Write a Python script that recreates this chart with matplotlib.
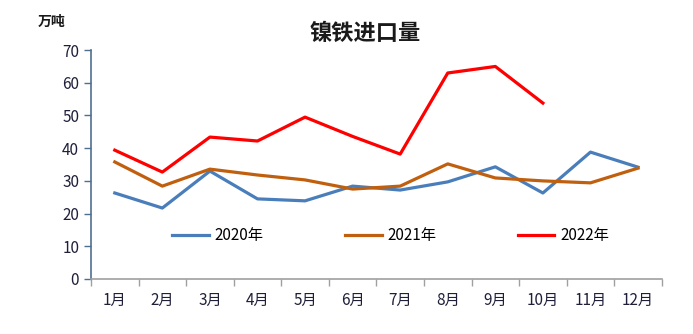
import matplotlib
matplotlib.use("Agg")
import matplotlib.pyplot as plt
import numpy as np

plt.rcParams['font.family'] = ['Noto Sans CJK SC', 'DejaVu Sans']

# data
months = ['1月', '2月', '3月', '4月', '5月', '6月', '7月', '8月', '9月', '10月', '11月', '12月']
y2020 = [26.3, 21.7, 33.0, 24.5, 23.9, 28.4, 27.2, 29.7, 34.3, 26.3, 38.8, 34.2]
y2021 = [35.8, 28.4, 33.6, 31.8, 30.3, 27.5, 28.4, 35.2, 30.9, 30.0, 29.4, 33.9]
y2022 = [39.4, 32.7, 43.4, 42.2, 49.5, 43.6, 38.2, 63.0, 65.0, 53.8]

fig = plt.figure(figsize=(6.93, 3.34), dpi=100)
ax = fig.add_axes([0.1313, 0.1647, 0.8237, 0.6853])

x = np.arange(len(months))
ax.plot(x, y2020, color='#4a7ebb', lw=2.3, label='2020年')
ax.plot(x, y2021, color='#c0600f', lw=2.3, label='2021年')
ax.plot(x[:len(y2022)], y2022, color='#ff0000', lw=2.3, label='2022年')

ax.set_xlim(-0.5, 11.5)
ax.set_ylim(0, 70)
ax.set_yticks(range(0, 71, 10))
ax.set_xticks(x)
ax.set_xticklabels(months)
ax.set_xticks(np.arange(-0.5, 12, 1), minor=True)
ax.tick_params(axis='x', which='major', length=0, pad=9, labelsize=11, colors='#1f1f3a')
ax.tick_params(axis='x', which='minor', length=5, color='#a0a0a0', width=1)
ax.tick_params(axis='y', length=5, width=1, labelsize=11, colors='#1f1f3a')
ax.tick_params(axis='y', color='#4f6f8f')

for s in ['top', 'right']:
    ax.spines[s].set_visible(False)
ax.spines['left'].set_color('#4f6f8f')
ax.spines['left'].set_linewidth(1.2)
ax.spines['bottom'].set_color('#a0a0a0')
ax.spines['bottom'].set_linewidth(1.2)

leg = ax.legend(loc='center', bbox_to_anchor=(0.525, 0.188), ncol=3, frameon=False,
                fontsize=11, columnspacing=5.3, handlelength=2.4, handletextpad=0.4)

fig.text(0.527, 0.90, '镍铁进口量', ha='center', va='center', fontsize=16,
         fontweight='bold', color='#1a1a1a')
fig.text(0.075, 0.933, '万吨', ha='center', va='center', fontsize=10,
         fontweight='bold', color='#1a1a1a')

fig.savefig('out.png', dpi=100)
